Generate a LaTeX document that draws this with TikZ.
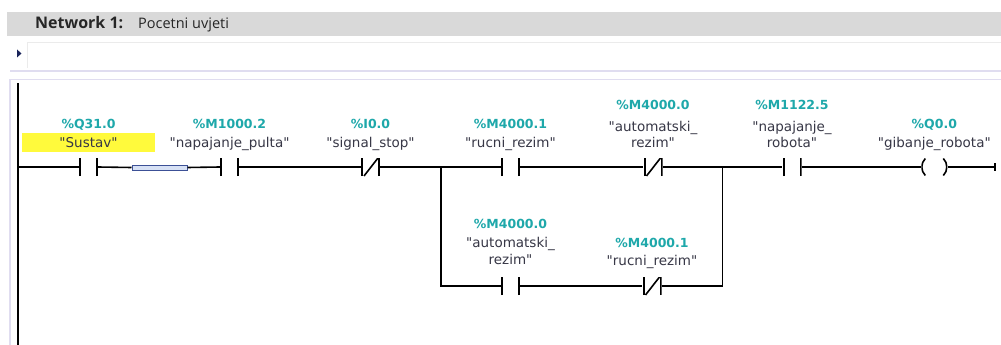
\documentclass[tikz,border=0pt]{standalone}
\usepackage{fontspec}
\setmainfont{DejaVu Sans}[Ligatures=TeXOff]
\newfontfamily\naslovfont{Open Sans}
\usetikzlibrary{positioning}
\definecolor{sivatraka}{RGB}{217,217,217}
\definecolor{lavanda}{RGB}{224,221,240}
\definecolor{adresa}{RGB}{30,168,170}
\definecolor{simbol}{RGB}{55,55,70}
\definecolor{oznaka}{RGB}{255,250,60}
\definecolor{vezarub}{RGB}{60,80,150}
\definecolor{vezaunutra}{RGB}{215,225,245}
\definecolor{strelica}{RGB}{25,35,90}

\tikzset{
  zica/.style={line width=1.6pt, black},
  kontakt/.style={rectangle, minimum width=19pt, minimum height=18pt, inner sep=0pt,
    path picture={
      \draw[line width=2pt] ([xshift=1pt]path picture bounding box.south west) -- ([xshift=1pt]path picture bounding box.north west);
      \draw[line width=2pt] ([xshift=-1pt]path picture bounding box.south east) -- ([xshift=-1pt]path picture bounding box.north east);}},
  kontaktNC/.style={rectangle, minimum width=19pt, minimum height=18pt, inner sep=0pt,
    path picture={
      \draw[line width=2pt] ([xshift=1pt]path picture bounding box.south west) -- ([xshift=1pt]path picture bounding box.north west);
      \draw[line width=2pt] ([xshift=-1pt]path picture bounding box.south east) -- ([xshift=-1pt]path picture bounding box.north east);
      \draw[line width=1.6pt] ([xshift=3pt]path picture bounding box.south west) -- ([xshift=-2pt]path picture bounding box.north east);}},
  zavojnica/.style={rectangle, minimum width=26pt, minimum height=17pt, inner sep=0pt,
    path picture={
      \draw[line width=1.6pt] ([xshift=4pt]path picture bounding box.north west) to[bend right=45] ([xshift=4pt]path picture bounding box.south west);
      \draw[line width=1.6pt] ([xshift=-4pt]path picture bounding box.north east) to[bend left=45] ([xshift=-4pt]path picture bounding box.south east);}},
  adr/.style={font=\bfseries\fontsize{12.5}{14}\selectfont, text=adresa, inner sep=0pt, anchor=base},
  ime/.style={font=\fontsize{13.5}{16.5}\selectfont, text=simbol, inner sep=0pt, anchor=base, align=center},
}

\begin{document}
\begin{tikzpicture}[x=1pt,y=-1pt]
\fill[white] (0,0) rectangle (1001,345);
\useasboundingbox (0,0) rectangle (1001,345);
% zaglavlje mreze
\fill[sivatraka] (7,12) rectangle (1001,36.5);
\node[anchor=base west, inner sep=0pt, font=\naslovfont\bfseries\fontsize{16}{18}\selectfont, text=black!85] (mreza) at (35,29) {Network 1:};
\node[anchor=base west, inner sep=0pt, font=\naslovfont\fontsize{14.5}{16}\selectfont, text=black!85] (naziv) at (138,28.5) {Pocetni uvjeti};
% komentar
\draw[black!8, line width=1pt] (27,68) -- (27,43) -- (1001,43);
\fill[strelica] (17,49.5) -- (21.5,53.5) -- (17,57.5) -- cycle;
\draw[lavanda, line width=2pt] (10,71) -- (1001,71);
\draw[lavanda, line width=1.5pt] (10,345) -- (10,79.5) -- (1001,79.5);
% sabirnica
\draw[line width=2.4pt] (18,83) -- (18,345);
\coordinate (sabirnica) at (18,167);

% kontakti
\node[kontakt] (k1) at (88.5,167) {};
\node[rectangle, draw=vezarub, fill=vezaunutra, line width=1pt, minimum width=55pt, minimum height=5pt, inner sep=0pt] (veza) at (159.5,167.5) {};
\node[kontakt] (k2) at (229.5,167) {};
\node[kontaktNC] (k3) at (370.5,167) {};
\node[kontakt] (k4) at (510.5,167) {};
\node[kontaktNC] (k5) at (653,167) {};
\node[kontakt] (k6) at (792,167) {};
\node[zavojnica] (q0) at (934.3,167) {};
\coordinate (kraj) at (995,167);
\node[kontakt] (k7) at (510.5,286) {};
\node[kontaktNC] (k8) at (652,286) {};
\coordinate (j1) at (441,167);
\coordinate (j2) at (441,286);
\coordinate (j3) at (722.5,167);
\coordinate (j4) at (722.5,286);

% oznake
\node[fill=oznaka, minimum width=133pt, minimum height=19pt, inner sep=0pt] (k1oznaka) at (88.5,142.5) {};
\node[adr] (k1adr) at ([yshift=39pt]k1.center) {\%Q31.0};
\node[ime] (k1ime) at ([yshift=19.5pt]k1.center) {"Sustav"};
\node[adr] (k2adr) at ([yshift=39pt]k2.center) {\%M1000.2};
\node[ime] (k2ime) at ([yshift=19.5pt]k2.center) {"napajanje\_pulta"};
\node[adr] (k3adr) at ([yshift=39pt]k3.center) {\%I0.0};
\node[ime] (k3ime) at ([yshift=19.5pt]k3.center) {"signal\_stop"};
\node[adr] (k4adr) at ([yshift=39pt]k4.center) {\%M4000.1};
\node[ime] (k4ime) at ([yshift=19.5pt]k4.center) {"rucni\_rezim"};
\node[adr] (k5adr) at ([yshift=57.5pt]k5.center) {\%M4000.0};
\node[ime] (k5ime) at ([yshift=19.5pt]k5.center) {"automatski\_\\rezim"};
\node[adr] (k6adr) at ([yshift=57.5pt]k6.center) {\%M1122.5};
\node[ime] (k6ime) at ([yshift=19.5pt]k6.center) {"napajanje\_\\robota"};
\node[adr] (q0adr) at ([yshift=39pt]q0.center) {\%Q0.0};
\node[ime] (q0ime) at ([yshift=19.5pt]q0.center) {"gibanje\_robota"};
\node[adr] (k7adr) at ([yshift=57.5pt]k7.center) {\%M4000.0};
\node[ime] (k7ime) at ([yshift=22pt]k7.center) {"automatski\_\\rezim"};
\node[adr] (k8adr) at ([yshift=39pt]k8.center) {\%M4000.1};
\node[ime] (k8ime) at ([yshift=20.5pt]k8.center) {"rucni\_rezim"};

% vodovi
\draw[zica] (sabirnica) -- (k1.west);
\draw[zica] (k1.east) -- (veza.west);
\draw[zica] (veza.east) -- (k2.west);
\draw[zica] (k2.east) -- (k3.west);
\draw[zica] (k3.east) -- (k4.west);
\draw[zica] (k4.east) -- (k5.west);
\draw[zica] (k5.east) -- (k6.west);
\draw[zica] (k6.east) -- (q0.west);
\draw[zica] (q0.east) -- (kraj);
\draw[zica] ([yshift=4pt]kraj) -- ([yshift=-4pt]kraj);
\draw[zica] (j1) -- (j2) -- (k7.west);
\draw[zica] (k7.east) -- (k8.west);
\draw[zica] (k8.east) -- (j4) -- (j3);
\end{tikzpicture}
\end{document}
